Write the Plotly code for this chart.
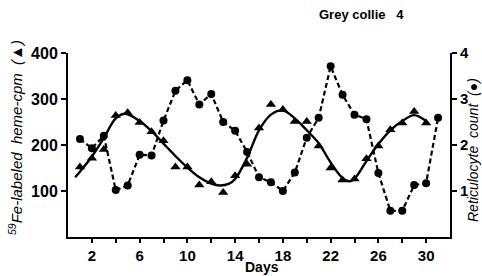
import plotly.graph_objects as go

# ---- data ----
days_heme = list(range(1, 31))
heme_cpm = [152, 171, 190, 264, 270, 249, 229, 209, 152, 152,
            113, 120, 97, 133, 158, 237, 288, 277, 251, 251,
            198, 150, 124, 126, 170, 198, 233, 248, 273, 248]

days_retic = list(range(1, 32))
retic = [2.13, 1.93, 2.20, 1.02, 1.12, 1.79, 1.77, 2.53, 3.18, 3.41,
         2.88, 3.11, 2.50, 2.31, 1.85, 1.30, 1.19, 1.00, 1.40, 2.16,
         2.59, 3.71, 3.09, 2.66, 2.56, 1.39, 0.57, 0.57, 1.13, 1.17, 2.59]

# hand-drawn smooth fit through the heme data (knots)
fit_days = [0.6, 1, 2, 3, 4, 4.8, 6, 7, 8, 9, 10, 11, 12, 12.7, 13.5, 14, 15,
            16, 17, 18, 19, 20, 21, 22, 23, 23.6, 24, 25, 26, 27, 28, 29, 30]
fit_cpm = [130, 142, 175, 215, 258, 268, 252, 230, 203, 176, 151, 130, 116, 112,
           116, 126, 172, 232, 266, 275, 258, 232, 204, 162, 128, 121, 127, 165,
           202, 232, 252, 265, 252]

x_labelled = [2, 6, 10, 14, 18, 22, 26, 30]
x_minor = [4, 8, 12, 16, 20, 24, 28]
left_ticks = [100, 200, 300, 400]
right_ticks = [1, 2, 3, 4]

FONT = "Liberation Sans, Arial, sans-serif"

fig = go.Figure()
fig.add_trace(go.Scatter(x=fit_days, y=fit_cpm, mode="lines",
                         line=dict(color="black", width=2.4, shape="spline", smoothing=1.0),
                         hoverinfo="skip", showlegend=False))
fig.add_trace(go.Scatter(x=days_heme, y=heme_cpm, mode="markers",
                         marker=dict(symbol="triangle-up", size=9, color="black"),
                         showlegend=False))
fig.add_trace(go.Scatter(x=days_retic, y=retic, mode="lines+markers", yaxis="y2",
                         line=dict(color="black", width=2.2, dash="5px,3px"),
                         marker=dict(symbol="circle", size=8, color="black"),
                         showlegend=False))

L, R, T, B = 68, 32, 53, 39
W, H = 482, 276
pw, ph = W - L - R, H - T - B

def px(xp):
    return (xp - L) / pw

def py(yp):
    return (H - B - yp) / ph

fig.update_layout(
    width=W, height=H,
    margin=dict(l=L, r=R, t=T, b=B, pad=0),
    paper_bgcolor="white", plot_bgcolor="white",
    font=dict(family=FONT, color="black"),
    xaxis=dict(range=[0, 32], tickmode="array", tickvals=x_labelled,
               ticks="outside", ticklen=4, tickwidth=2, tickcolor="black",
               minor=dict(tickmode="array", tickvals=x_minor, ticks="outside",
                          ticklen=4, tickwidth=2, tickcolor="black", showgrid=False),
               showline=True, linecolor="black", linewidth=2,
               showgrid=False, zeroline=False,
               tickfont=dict(family=FONT, size=15, weight="bold")),
    yaxis=dict(range=[0, 400], tickvals=left_ticks,
               ticks="outside", ticklen=5, tickwidth=2, tickcolor="black",
               showline=True, linecolor="black", linewidth=2,
               showgrid=False, zeroline=False,
               tickfont=dict(family=FONT, size=16, weight="bold")),
    yaxis2=dict(range=[0, 4], tickvals=right_ticks, overlaying="y", side="right",
                ticks="outside", ticklen=5, tickwidth=2, tickcolor="black",
                showline=True, linecolor="black", linewidth=2,
                showgrid=False, zeroline=False,
                tickfont=dict(family=FONT, size=15, weight="bold")),
    annotations=[
        dict(text="Grey collie &nbsp; 4", xref="paper", yref="paper",
             x=px(317), y=py(15), xanchor="left", yanchor="middle", showarrow=False,
             font=dict(family=FONT, size=13, weight="bold")),
        dict(text="Days", xref="paper", yref="paper",
             x=px(262), y=py(267), xanchor="center", yanchor="middle", showarrow=False,
             font=dict(family=FONT, size=14, weight="bold")),
        dict(text="<i><sup>59</sup>Fe-labeled  heme-cpm  (▲)</i>", xref="paper", yref="paper",
             x=px(15), y=py(138), xanchor="center", yanchor="middle", showarrow=False,
             textangle=-90, font=dict(family=FONT, size=15)),
        dict(text="<i>Reticulocyte  count  (●)</i>", xref="paper", yref="paper",
             x=px(473), y=py(150), xanchor="center", yanchor="middle", showarrow=False,
             textangle=-90, font=dict(family=FONT, size=14)),
    ],
)

fig.write_html(
    "out.html",
    config={"displayModeBar": False},
    post_script="document.documentElement.style.margin='0';"
                "document.body.style.margin='0';document.body.style.padding='0';"
                "document.body.style.overflow='hidden';",
)
